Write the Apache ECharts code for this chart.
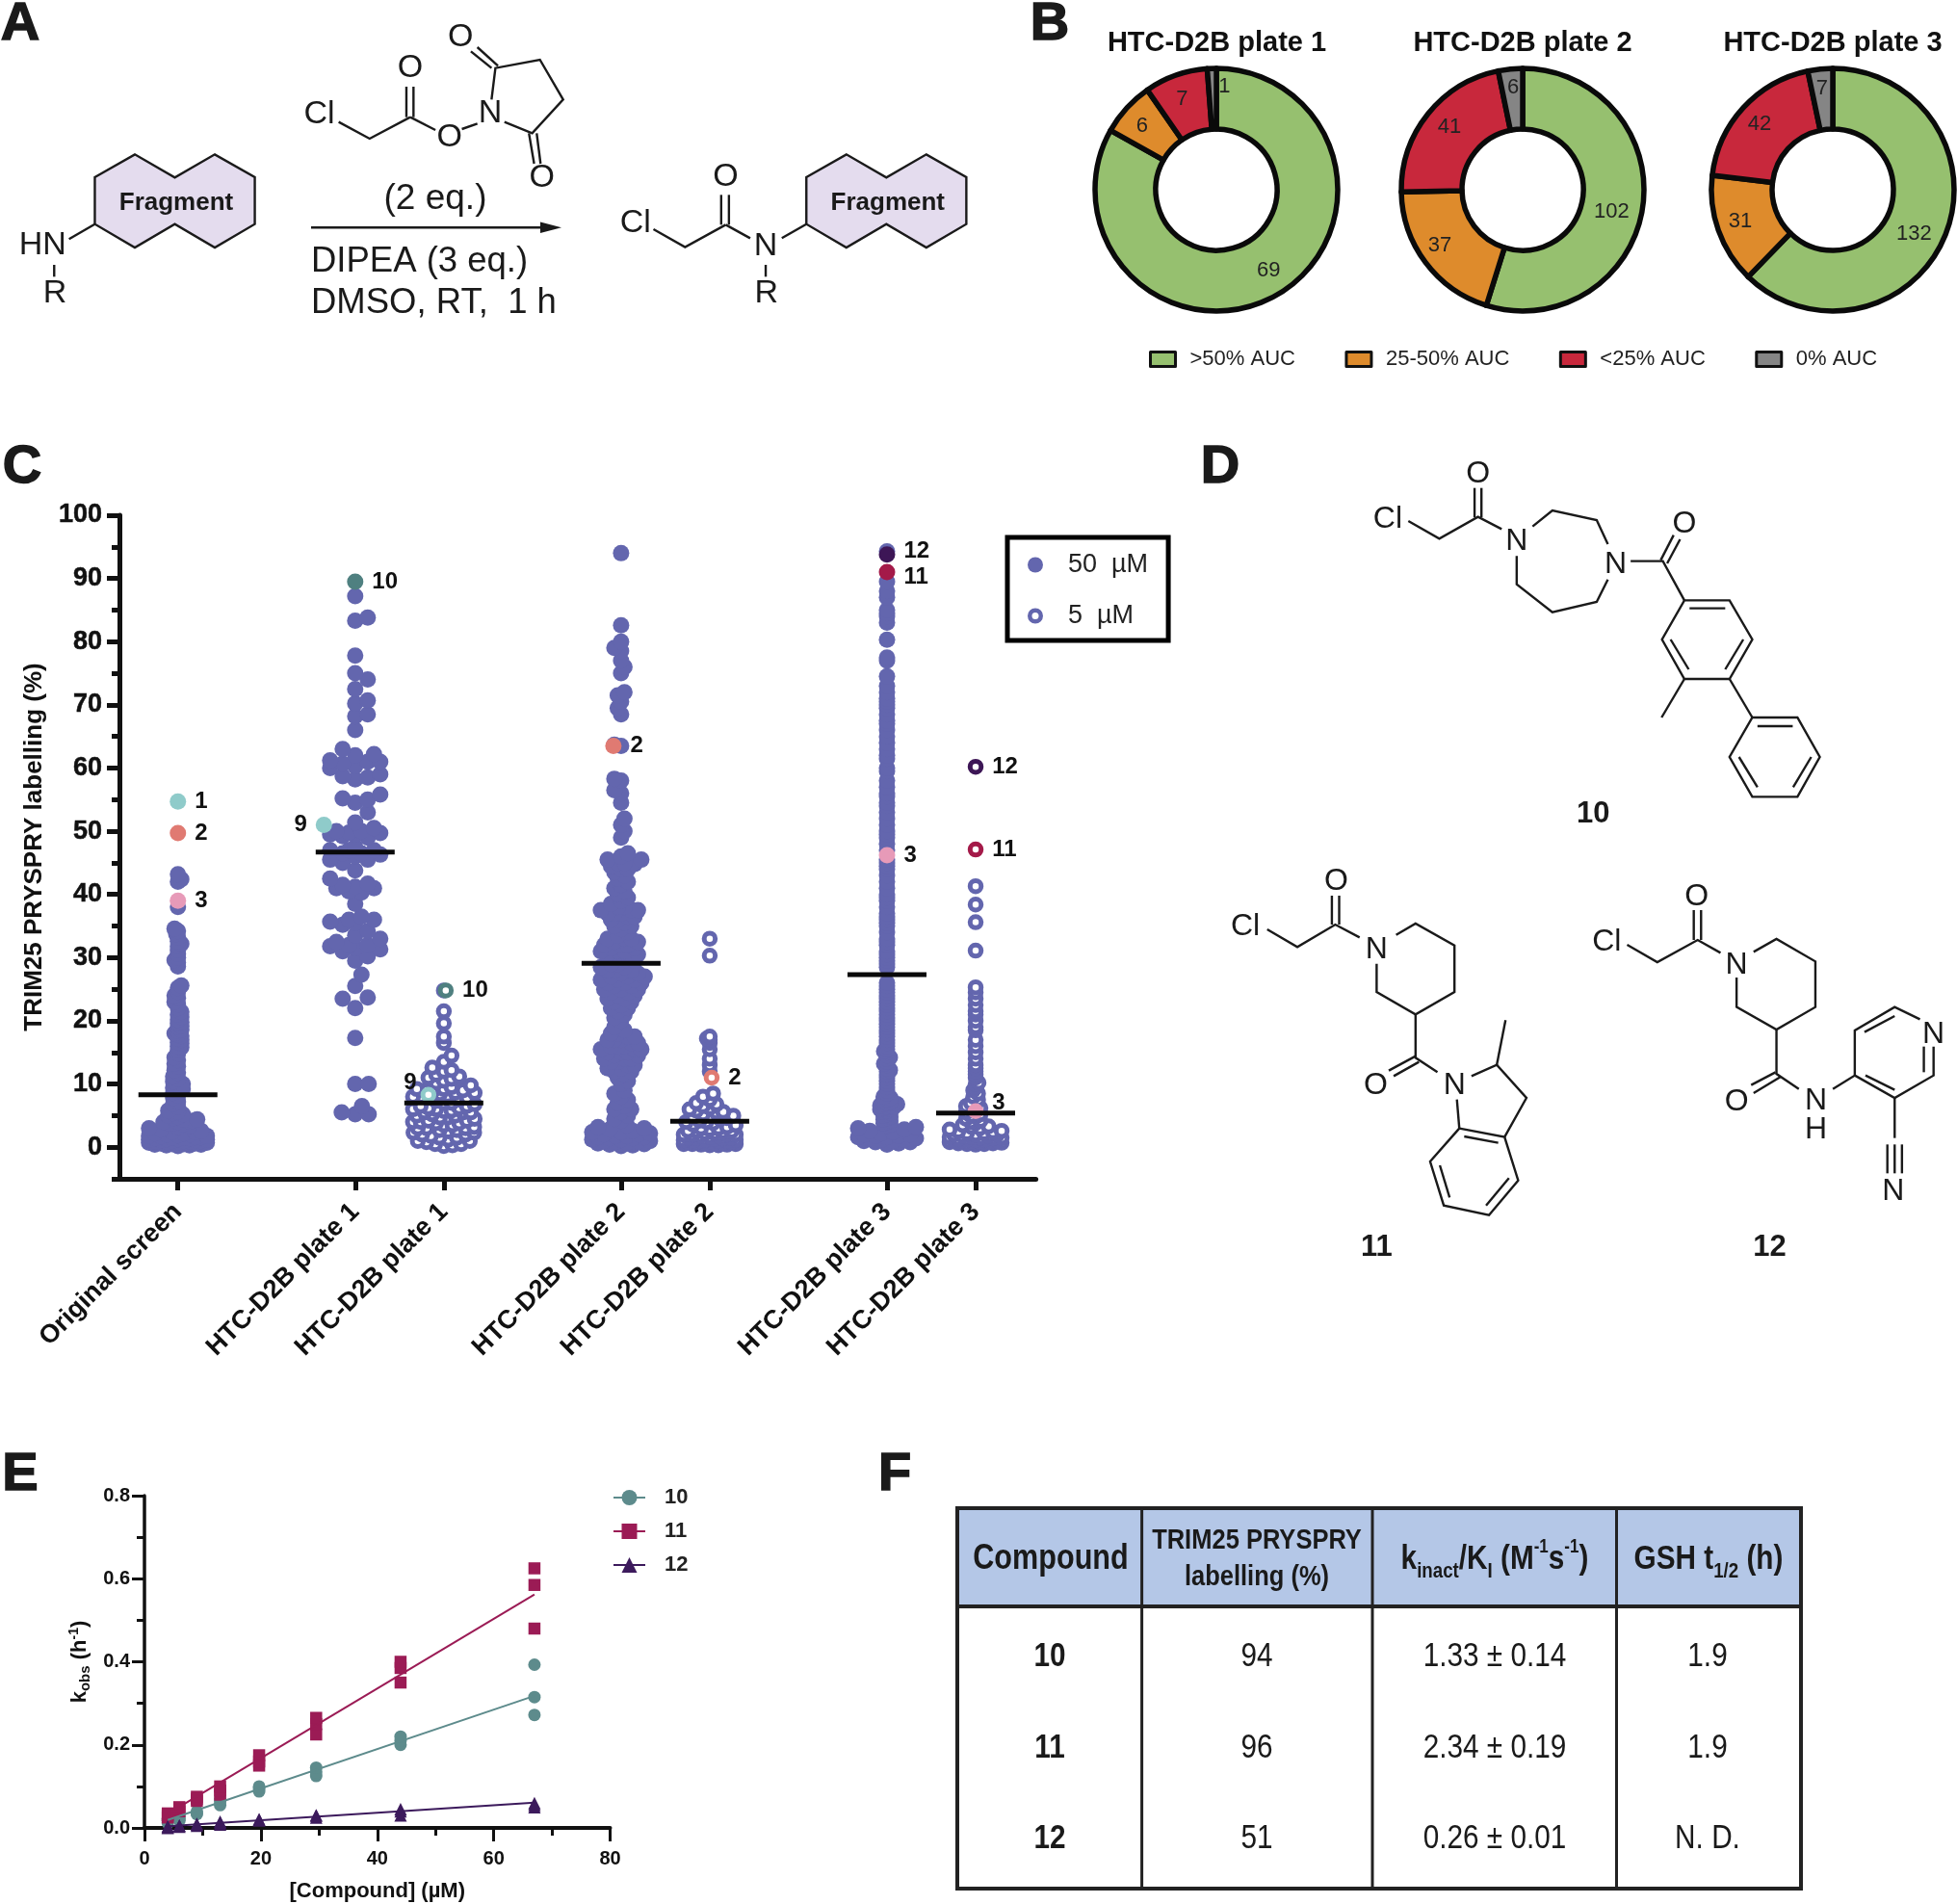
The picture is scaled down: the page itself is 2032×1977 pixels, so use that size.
<!DOCTYPE html>
<html><head><meta charset="utf-8">
<style>html,body{margin:0;padding:0;background:#fff}#c{width:2032px;height:1977px}</style>
<script src="https://cdn.jsdelivr.net/npm/echarts@6/dist/echarts.min.js"></script>
</head><body><div id="c"></div>
<script>
/* ---------- DATA ---------- */
const panelCColumns = ['Original screen','HTC-D2B plate 1','HTC-D2B plate 1','HTC-D2B plate 2','HTC-D2B plate 2','HTC-D2B plate 3','HTC-D2B plate 3'];
const panelCSlots = [0,2,3,5,6,8,9];
const originalScreen = [43.2,42.4,42,38,34.6,34.2,33.7,33.2,32.6,32.2,31.8,31.2,30.6,30,29.6,29.2,28.6,25.6,25.2,24.6,24,23.6,23,22.6,22,21.4,21,20.6,20.2,19.8,19.6,19.2,19,18.6,18.4,18,17.8,17.6,17.2,17,16.6,16.4,16,15.8,15.4,14.8,14.2,13.8,13.2,12.8,12.2,11.8,11.2,10.8,10.4,10,9.8,9.4,9.2,9,8.6,8.2,7.8,7.2,6.8,6.4,5.8,5.6,5.4,5.2,5,4.8,4.6,4.4,4.4,4.2,4.2,4,4,3.8,3.8,3.6,3.4,3.2,3,2.8,2.6,2.4,2.4,2.2,2.2,2,2,1.9,1.8,1.8,1.7,1.6,1.6,1.5,1.5,1.4,1.4,1.3,1.3,1.2,1.2,1.1,1.1,1,1,1,0.9,0.9,0.8,0.8,0.7,0.7,0.6,0.6,0.5,0.5,0.4,0.4,0.3,0.3,0.2];
const plate1At50 = [87.2,83.8,83.3,77.8,75,74,72.5,70.7,70.2,68.5,68.2,66,63,62.2,62,61.2,61,61,60.7,60.3,60,59,58.7,58.5,58.2,55.8,55.2,55,54.5,53,51.4,50.5,50,50,49.8,49.7,49.5,49.5,49.2,49,47.5,47,47,47,46.5,46.5,46.3,46,45.5,45.5,45,43.8,42.5,41.7,41.5,41.2,41,41,40.5,40.3,38.5,36.5,36,36,35.7,35.5,35.2,34.2,33.5,33,32.5,32,32,31.8,31.5,31.3,31,30.2,29.5,27.3,25.5,23.7,23.5,22,17.3,10,10,6.5,5.5,5.2,5.2];
const plate1At5 = [24.8,21.5,19.6,17.5,16.5,14.5,13.5,12.6,12.2,12,11.5,11.2,11,10.8,10.5,10.2,9.8,9.5,9.2,9.2,9,9,8.8,8.6,8.6,8.4,8.2,8,8,7.8,7.8,7.5,7.3,7,7,6.8,6.5,6.5,6.2,6.2,6,6,5.8,5.7,5.5,5.5,5.5,5.2,5,5,4.7,4.7,4.5,4.2,4.2,4,4,3.8,3.8,3.5,3.5,3.2,3,3,3,2.7,2.7,2.5,2.3,2.3,2,2,1.8,1.5,1.5,1.2,1,1,0.8,0.5,0.5,0.3,0.2];
const plate2At50 = [94,82.6,80,79,78.5,77,76,75,72,71.5,70.5,69.5,68.5,63.7,63.5,58.3,58,56.5,56,54.5,52,51,50,49,46.5,46,45.5,45.5,45,45,44.8,44.5,44,44,43.5,43,42.5,42,41.5,41,40.5,40,39.5,39,38.5,38,38,37.5,37.5,37.5,37,37,37,36.5,36.5,36,36,35.5,35,35,34.5,34,33.5,33,33,33,32.5,32.5,32,32,32,31.5,31.5,31,31,31,30.5,30.5,30.5,30,30,29.5,29.5,29,29,28.5,28.5,28,28,28,27.5,27.5,27,27,27,26.5,26.5,26.5,26,26,26,25.5,25.5,25,25,25,24.5,24.5,24,24,23.5,23.5,23,23,22.5,22,22,21.5,21,20.5,20,19,18.5,18,18,17.5,17.5,17,17,17,16.5,16.5,16,16,16,15.5,15.5,15.5,15,15,15,14.5,14.5,14,14,14,13.5,13.5,13,13,12.5,12.5,12,12,11.5,11,10.5,10,9,8.5,8,7.5,7,6.5,6,6,5.5,5,4.5,4.2,3.5,3.2,3,2.8,2.6,2.4,2.4,2.2,2,2,1.8,1.8,1.6,1.6,1.4,1.4,1.2,1.2,1,1,0.9,0.8,0.7,0.6,0.5,0.4,0.3,0.2];
const plate2At5 = [33,30.3,17.5,17.2,17,16.5,15.5,14,13,12,8.5,8,7.5,7,6.8,6.5,6.2,6,5.8,5.6,5.5,5.2,5,5,4.8,4.6,4.5,4.2,4,4,3.8,3.6,3.5,3.2,3,3,2.8,2.6,2.5,2.5,2.4,2.2,2.2,2,2,2,2,1.8,1.8,1.6,1.5,1.5,1.5,1.4,1.3,1.2,1.2,1.1,1,1,1,1,0.9,0.8,0.8,0.8,0.7,0.6,0.6,0.5,0.5,0.5,0.4,0.4,0.3,0.3];
const plate3At50 = [94.3,89.5,88,87,85,84.5,84,83,80.3,77.5,77,74.5,73,72,71,70.5,70,69.5,68.5,67.5,67,66,65,64,63,62,61.5,60,59.5,58,57,56,55.5,54.5,54,53,52,51,50,49.5,49,48,47,45.5,45,44.5,44,43,42,41,40,39.5,39,38,37,36.5,36,35.5,35,34,33,32.5,32,31,30.5,30,29.5,29,28.5,26,25.5,25,24.5,24,23.5,23,22.5,22,21.5,21,20.5,20,19.5,19,18.5,18,17.5,17,16.5,16,15.5,15.2,15,14.5,14.2,14,13.5,13.2,13,12.5,12.2,12,11.5,11,10.5,10,9.5,9,8.5,8,7.8,7.6,7.4,7.2,7,7,6.8,6.8,6.6,6.6,6.4,6.4,6.2,6,6,5.8,5.6,5.4,5.2,5,4.8,4.6,4.4,4.2,4,3.8,3.6,3.4,3.2,3,2.8,2.6,2.4,2.2,2,2,1.8,1.8,1.6,1.6,1.4,1.4,1.2,1.2,1,1,0.8,0.8,0.6,0.4];
const plate3At5 = [41.3,38.4,35.6,31.1,25.3,24.5,23.5,22.5,21.5,21,20,19,18.5,17,16,15,14,13,12.5,12,11.5,11,10.2,10,9.5,9,8.5,8,7.5,7,6.8,6.5,6.2,6,5.8,5.5,5.2,5,4.8,4.5,4.2,4,3.8,3.5,3.3,3.2,3,2.8,2.6,2.5,2.4,2.2,2.2,2,2,2,1.8,1.8,1.6,1.6,1.5,1.5,1.4,1.3,1.2,1.2,1.1,1,1,1,0.9,0.9,0.8,0.8,0.7,0.6,0.6,0.5,0.5,0.4];
const meanBars = [8.3,46.7,7,29.1,4.1,27.3,5.4];
/* labelled compounds: text, column, value */
const labelledAt50 = [['1',0,54.7],['2',0,49.7],['3',0,39],['10',1,89.5],['9',1,51],['2',3,63.5],['12',5,93.8],['11',5,91],['3',5,46.2]];
const labelledAt5 = [['10',2,24.8],['9',2,8.3],['2',4,11],['12',6,60.2],['11',6,47.1],['3',6,5.7]];

const doseLabels = ['>50% AUC','25-50% AUC','<25% AUC','0% AUC'];
const plateTitles = ['HTC-D2B plate 1','HTC-D2B plate 2','HTC-D2B plate 3'];
const plate1Counts = [69,6,7,1];
const plate2Counts = [102,37,41,6];
const plate3Counts = [132,31,42,7];

const kobsConc = [4,6,9,13,19.7,29.5,44,67];
const kobs10 = [[.012,.018,.022],[.018,.022,.027],[.033,.036,.04],[.055,.063,.07],[.088,.095,.1],[.125,.135,.145],[.2,.21,.22],[.272,.315,.393]];
const kobs11 = [[.025,.03,.035],[.04,.045,.05],[.065,.07,.075],[.08,.09,.1],[.15,.16,.175],[.225,.25,.265],[.35,.385,.4],[.48,.585,.625]];
const kobs12 = [[0,.002,.004],[.003,.005,.006],[.005,.008,.01],[.008,.012,.015],[.018,.02,.021],[.025,.03,.03],[.03,.04,.045],[.05,.055,.06]];
const fitConc = [4,67];
const fit10 = [.019,.318];
const fit11 = [.034,.562];
const fit12 = [.004,.061];

const tableHeader = ['Compound','TRIM25 PRYSPRY\nlabelling (%)','k{sub|inact}/K{sub|I} (M{sup|-1}s{sup|-1})','GSH t{sub|1/2} (h)'];
const tableCompounds = ['10','11','12'];
const tableLabelling = ['94','96','51'];
const tableKinact = ['1.33 ± 0.14','2.34 ± 0.19','0.26 ± 0.01'];
const tableGsh = ['1.9','1.9','N. D.'];

/* ---------- STYLE / LAYOUT ---------- */
const SANS='"Liberation Sans",Arial,sans-serif';
const INK='#111', PURPLE='#6366ae';
const markColor={'1':'#8fcbca','9':'#8fcbca','2':'#e07a72','3':'#e79ab8','10':'#4f8080','11':'#a41a49','12':'#3d1656'};
const C={l:124,r:1075.6,t:535,b:1224,xMin:-0.66,xMax:9.68,yMin:-5,yMax:100};
const pxX=(C.r-C.l)/(C.xMax-C.xMin), pxY=(C.b-C.t)/(C.yMax-C.yMin);
/* per-column spacing of the swarm layout: [above topBand, middle, below lowBand, half width, topBand] */
const swarmLayout=[[3.5,5,12,33,12],[13,14,14,26,12],[3,8,9,32,15],[7,7,12,33,12],[3,7,9,31,9],[3,3.5,12,33,8.5],[3,5,9,31,9]];
const lowBand=3.6;

function swarm(values,col){
  const [dTop,dMid,dLo,half,topBand]=swarmLayout[col], placed=[], out=[];
  [...values].sort((a,b)=>a-b).forEach((v,i)=>{
    const y=v*pxY, D=v<lowBand?dLo:(v>topBand?dTop:dMid), sign=i%2?1:-1, step=Math.max(D/2,1.5);
    let best=0,bestD=-1;
    for(let k=0;k*step<=half;k++){
      for(const s of (k?[sign,-sign]:[1])){
        const x=s*k*step; let m=1e9;
        for(const p of placed) m=Math.min(m,Math.hypot(p[0]-x,p[1]-y));
        if(m>bestD){bestD=m;best=x;}
        if(m>=D){bestD=1e9;break;}
      }
      if(bestD===1e9)break;
    }
    placed.push([best,y]);
    out.push([panelCSlots[col]+best/pxX,v]);
  });
  return out;
}
const cols=[originalScreen,plate1At50,plate1At5,plate2At50,plate2At5,plate3At50,plate3At5];
const filledPts=[0,1,3,5].flatMap(c=>swarm(cols[c],c));
const ringPts=[2,4,6].flatMap(c=>swarm(cols[c],c));
/* small pixel nudges of the labelled marks and of their numbers */
const markShift={'1,9':-32.5,'3,2':-8,'2,10':2,'2,9':-16,'4,2':2};
const labelSide={'9':'left'};
const labelNudge={'5,12':[0,-3],'5,11':[0,5],'6,3':[0,-8],'2,9':[5,-12]};
function markData(list,ring){
  return list.map(([t,c,v])=>{
    const col=markColor[t];
    const filledRing=ring&&t==='3';
    return {value:[panelCSlots[c]+(markShift[c+','+t]||0)/pxX,v],
      itemStyle:ring&&!filledRing?{color:'#fff',borderColor:col,borderWidth:5,opacity:1}:{color:col,borderWidth:filledRing?5:0,borderColor:col,opacity:1},
      label:{show:true,formatter:t,position:labelSide[t]||'right',distance:9,offset:labelNudge[c+','+t]||[0,0],color:INK,fontFamily:SANS,fontWeight:'bold',fontSize:24}};
  });
}

/* ---------- GRAPHIC ---------- */
const g=[];
const seg=(pts,w,close)=>g.push({type:close?'polygon':'polyline',silent:true,shape:{points:pts},style:{fill:null,stroke:'#1a1a1a',lineWidth:w||2.4,lineJoin:'miter'}});
const txt=(x,y,t,font,o,sx)=>g.push({type:'text',silent:true,x,y:y+2.5,scaleX:sx||1,style:Object.assign({text:t,font,fill:'#1a1a1a',textAlign:'center',textVerticalAlign:'middle'},o||{})});
function mol(ox,oy,sx,sy,lines,labels,size){
  const f=p=>[ox+p[0]/sx,oy+p[1]/sy];
  lines.forEach(l=>{const c=l[0]==='c';const pts=(c?l.slice(1):l).map(f);seg(pts,2.4,c);});
  labels.forEach(([t,x,y])=>{const p=f([x,y]);txt(p[0],p[1],t,(size||32)+'px '+SANS,{});});
}
/* panel letters */
[['A',21,23.5],['B',1090,23.5],['C',23,483.5],['D',1267,483.5],['E',21,1529.5],['F',929,1529.5]].forEach(([t,x,y])=>txt(x,y,t,'bold 56px '+SANS,{stroke:'#1a1a1a',lineWidth:1.5}));
/* panel A */
const frag=dx=>[[147,552],[209,481],[271,553],[333,481],[395,552],[395,698],[333,771],[271,698],[209,771],[147,698]].map(p=>[p[0]/1.493+dx,p[1]/3]);
[0,738.8].forEach(dx=>{
  g.push({type:'polygon',silent:true,shape:{points:frag(dx)},style:{fill:'#e4dcee',stroke:'#1a1a1a',lineWidth:2.4}});
  txt(183+dx,208,'Fragment','bold 26px '+SANS,{});
});
mol(0,0,1.493,3,[
 [[107,745],[147,698]],[[84,825],[84,862]],
 [[525,380],[573,432],[636,365]],[[630,365],[630,270]],[[641,365],[641,270]],[[636,365],[675,405]],[[716,402],[740,385]],
 [[762,310],[768,212],[837,186],[873,310],[825,415],[782,380]],[[772,205],[740,147]],[[762,212],[730,160]],[[820,415],[828,510]],[[832,415],[838,510]],
 [[1013,714],[1062,770],[1125,700]],[[1118,700],[1118,607]],[[1130,700],[1130,607]],[[1125,700],[1163,742]],[[1212,742],[1250,698]],[[1187,825],[1187,862]]
],[['HN',66,757],['R',85,905],['Cl',495,348],['O',636,205],['O',697,420],['N',760,345],['O',714,108],['O',840,545],['Cl',985,688],['O',1125,543],['N',1187,760],['R',1188,905]],34);
txt(452,204.5,'(2 eq.)','37px '+SANS,{});
txt(323,269,'DIPEA (3 eq.)','36.5px '+SANS,{textAlign:'left'});
txt(323,312,'DMSO, RT,  1 h','36.5px '+SANS,{textAlign:'left'});
g.push({type:'line',silent:true,shape:{x1:323,y1:236.3,x2:570,y2:236.3},style:{stroke:'#1a1a1a',lineWidth:2.6}});
g.push({type:'polygon',silent:true,shape:{points:[[583,236.3],[561,230.5],[561,242]]},style:{fill:'#1a1a1a'}});
/* panel D */
mol(1240,460,2.24,3,[
 [[498,243],[570,298],[660,230],[715,268]],[[652,232],[652,140]],[[668,232],[668,140]],
 [[787,260],[833,210],[936,240],[962,315]],[[750,352],[750,440],[833,527],[936,495],[962,425]],
 [[1015,368],[1090,368],[1140,490]],[[1085,365],[1115,287]],[[1100,375],[1130,300]],
 ['c',[1140,490],[1245,490],[1298,612],[1245,735],[1140,735],[1088,612]],[[1152,515],[1235,515]],[[1277,612],[1235,705]],[[1108,612],[1150,705]],
 [[1140,735],[1087,855]],[[1245,735],[1298,855]],
 ['c',[1298,855],[1403,855],[1455,978],[1403,1102],[1298,1102],[1245,978]],[[1310,882],[1392,882]],[[1435,978],[1393,1072]],[[1267,978],[1310,1072]]
],[['Cl',450,230],['O',660,88],['N',750,300],['N',980,370],['O',1140,245]]);
txt(1240+928/2.24,460+1150/3,'10','bold 31px '+SANS,{});
mol(1240,880,1.98,3,[
 [[150,255],[212,310],[290,240],[340,280]],[[283,240],[283,150]],[[298,240],[298,150]],
 [[415,272],[455,237],[535,305],[535,450],[455,520],[375,450],[375,362]],[[455,520],[455,655],[500,700]],
 [[455,650],[400,695]],[[462,668],[410,712]],[[570,712],[622,677],[683,780],[638,902]],[[545,875],[540,785]],[[622,677],[640,538]],
 ['c',[545,875],[638,902],[666,1037],[606,1145],[513,1115],[485,978]],[[555,900],[625,920]],[[647,1030],[600,1115]],[[525,1090],[505,990]],
 [[890,303],[952,357],[1035,288],[1082,328]],[[1027,288],[1027,195]],[[1042,288],[1042,195]],
 [[1150,325],[1197,285],[1277,355],[1277,497],[1197,567],[1115,497],[1115,405]],[[1197,567],[1197,705],[1243,752]],
 [[1195,700],[1145,740]],[[1205,715],[1150,765]],[[1313,752],[1358,710],[1358,570],[1440,497],[1492,535]],[[1520,620],[1520,710],[1440,780],[1358,710]],
 [[1378,575],[1440,525]],[[1500,620],[1500,700]],[[1380,710],[1440,755]],[[1440,780],[1440,905]],[[1425,925],[1425,1015]],[[1440,925],[1440,1015]],[[1455,925],[1455,1015]]
],[['Cl',105,240],['O',292,97],['N',375,312],['O',373,735],['N',535,735],['Cl',848,288],['O',1033,145],['N',1115,360],['O',1115,785],['N',1278,782],['H',1278,872],['N',1520,575],['N',1437,1065]]);
txt(1240+375/1.98,880+1240/3,'11','bold 31px '+SANS,{});
txt(1240+1183/1.98,880+1240/3,'12','bold 31px '+SANS,{});
/* panel F */
const T={x:[994,1185.6,1425,1678.5,1870],y:[1566,1668,1961],rows:[1718,1812.7,1907],cx:[1090,1305,1552,1774]};
const NAR=0.85;
g.push({type:'rect',silent:true,shape:{x:T.x[0],y:T.y[0],width:T.x[4]-T.x[0],height:T.y[1]-T.y[0]},style:{fill:'#b4c7e7'}});
g.push({type:'rect',silent:true,shape:{x:T.x[0],y:T.y[0],width:T.x[4]-T.x[0],height:T.y[2]-T.y[0]},style:{fill:null,stroke:'#222',lineWidth:4}});
g.push({type:'line',silent:true,shape:{x1:T.x[0],y1:T.y[1],x2:T.x[4],y2:T.y[1]},style:{stroke:'#222',lineWidth:4}});
[1,2,3].forEach(i=>g.push({type:'line',silent:true,shape:{x1:T.x[i],y1:T.y[0],x2:T.x[i],y2:T.y[2]},style:{stroke:'#222',lineWidth:3}}));
const headRich={sub:{font:'bold 22px '+SANS,fill:'#1a1a1a',verticalAlign:'bottom',lineHeight:46,padding:[14,0,0,0]},sup:{font:'bold 20px '+SANS,fill:'#1a1a1a',verticalAlign:'top',lineHeight:46}};
txt(T.cx[0]+1,1617,tableHeader[0],'bold 36px '+SANS,{},NAR);
tableHeader[1].split('\n').forEach((s,i)=>txt(T.cx[1],1597+38*i,s,'bold 30px '+SANS,{},NAR));
txt(T.cx[2],1617,tableHeader[2],'bold 35px '+SANS,{rich:headRich},NAR);
txt(T.cx[3],1617,tableHeader[3],'bold 35px '+SANS,{rich:headRich},NAR);
T.rows.forEach((y,i)=>{
  txt(T.cx[0],y,tableCompounds[i],'bold 35px '+SANS,{},NAR);
  txt(T.cx[1],y,tableLabelling[i],'35px '+SANS,{},NAR);
  txt(T.cx[2],y,tableKinact[i],'35px '+SANS,{},NAR);
  txt(T.cx[3]-1,y,tableGsh[i],'35px '+SANS,{},NAR);
});

/* ---------- SERIES ---------- */
const pieColors=['#96c06f','#de8b2c','#c8283c','#858585'];
/* pixel nudges of the slice numbers, per plate */
const sliceNudge=[[[5,0],[-5,0],[-3,-2],[12,-10]],[[-4,8],[-8,0],[0,-4],[0,-9]],[[-6,9],[-4,0],[-4,-2],[-1,-8]]];
const pieSeries=[plate1Counts,plate2Counts,plate3Counts].map((vals,i)=>({
  type:'pie',silent:true,animation:false,center:[[1263,1581,1903][i],197],radius:[63,126],startAngle:90,clockwise:true,
  itemStyle:{borderColor:'#0a0a0a',borderWidth:5.5},emphasis:{disabled:true},
  label:{position:'inside',formatter:'{c}',fontSize:22,color:'#222',fontFamily:SANS},labelLine:{show:false},
  data:vals.map((v,j)=>({name:doseLabels[j],value:v,itemStyle:{color:pieColors[j]},label:{offset:sliceNudge[i][j]}}))
}));
const triple=(conc,arr)=>conc.flatMap((c,i)=>arr[i].map(v=>[c,v]));
const eColors={'10':'#5d8b8c','11':'#9b1b55','12':'#3c1a5c'}, eSym={'10':'circle','11':'rect','12':'triangle'};
const eSeries=[['10',kobs10,fit10],['11',kobs11,fit11],['12',kobs12,fit12]].flatMap(([n,pts,fit])=>[
 {type:'scatter',name:n+' replicates',xAxisIndex:1,yAxisIndex:2,silent:true,symbol:eSym[n],symbolSize:n==='11'?12.5:13,itemStyle:{color:eColors[n],opacity:1},data:triple(kobsConc,pts),z:3},
 {type:'line',name:n,xAxisIndex:1,yAxisIndex:2,silent:true,symbol:eSym[n],showSymbol:false,lineStyle:{color:eColors[n],width:2},itemStyle:{color:eColors[n]},data:fitConc.map((c,i)=>[c,fit[i]]),z:4}
]);
const ringIcon='path://M0,50a50,50 0 1,0 100,0a50,50 0 1,0 -100,0zM28,50a22,22 0 1,1 44,0a22,22 0 1,1 -44,0z';

const heavy={textBorderColor:'#111',textBorderWidth:0.5};
const option={
 animation:false,backgroundColor:'#fff',
 title:plateTitles.map((t,i)=>({text:t,left:[1263.5,1581,1903][i],top:30,padding:0,textAlign:'center',textStyle:{fontFamily:SANS,fontWeight:'bold',fontSize:29,color:'#111'}})),
 legend:[
  {data:doseLabels,left:1193,top:362,itemWidth:26,itemHeight:15,itemGap:51.5,selectedMode:false,icon:'rect',padding:0,
   itemStyle:{borderColor:'#111',borderWidth:3},textStyle:{fontFamily:SANS,fontSize:22,color:'#222',padding:[0,0,0,10]}},
  {data:[{name:'50 µM'},{name:'5 µM',icon:ringIcon,itemStyle:{color:PURPLE,borderWidth:0}}],left:1046,top:558,itemWidth:16,itemHeight:16,itemGap:26,selectedMode:false,orient:'vertical',padding:[15,21,12,21],
   borderColor:'#000',borderWidth:5,formatter:n=>n.replace(' ','  '),textStyle:{fontFamily:SANS,fontSize:27,color:'#222',padding:[0,0,0,21]}},
  {data:['10','11','12'],left:636,top:1544,orient:'vertical',itemWidth:33,itemHeight:20,itemGap:13,selectedMode:false,padding:0,
   textStyle:{fontFamily:SANS,fontWeight:'bold',fontSize:22,color:'#222',padding:[0,0,0,15]}}
 ],
 grid:[
  {left:C.l,width:C.r-C.l,top:C.t,height:C.b-C.t},
  {left:150,width:483.5,top:1553,height:345}
 ],
 xAxis:[
  {type:'value',gridIndex:0,min:C.xMin,max:C.xMax,splitLine:{show:false},
   axisLine:{onZero:false,lineStyle:{color:'#111',width:5}},
   axisTick:{length:12,customValues:panelCSlots,lineStyle:{color:'#111',width:5}},
   axisLabel:{customValues:panelCSlots,rotate:45,margin:30,fontFamily:SANS,fontWeight:'bold',fontSize:27,color:'#111',
     formatter:v=>panelCColumns[panelCSlots.indexOf(v)]}},
  {type:'value',gridIndex:1,min:0,max:80,interval:20,splitLine:{show:false},
   axisLine:{onZero:false,lineStyle:{color:'#111',width:4}},axisTick:{length:14,lineStyle:{color:'#111',width:3}},
   minorTick:{show:true,splitNumber:2,length:8,lineStyle:{color:'#111',width:3}},minorSplitLine:{show:false},
   axisLabel:{margin:22,fontFamily:SANS,fontWeight:'bold',fontSize:20,color:'#111'},
   name:'[Compound] (µM)',nameLocation:'middle',nameGap:55,nameMoveOverlap:false,nameTextStyle:{fontFamily:SANS,fontWeight:'bold',fontSize:22,color:'#111'}}
 ],
 yAxis:[
  {type:'value',gridIndex:0,min:C.yMin,max:C.yMax,splitLine:{show:false},
   axisLine:{onZero:false,lineStyle:{color:'#111',width:5}},
   axisTick:{length:13,customValues:[0,10,20,30,40,50,60,70,80,90,100],lineStyle:{color:'#111',width:5}},
   axisLabel:Object.assign({customValues:[0,10,20,30,40,50,60,70,80,90,100],margin:18,fontFamily:SANS,fontWeight:'bold',fontSize:27,color:'#111'},heavy),
   name:'TRIM25 PRYSPRY labelling (%)',nameLocation:'middle',nameGap:75,nameMoveOverlap:false,nameTextStyle:{fontFamily:SANS,fontWeight:'bold',fontSize:26,color:'#111'}},
  {type:'value',gridIndex:0,min:C.yMin,max:C.yMax,position:'left',splitLine:{show:false},axisLine:{show:false,onZero:false},
   axisTick:{length:8,customValues:[-5,5,15,25,35,45,55,65,75,85,95],lineStyle:{color:'#111',width:5}},axisLabel:{show:false}},
  {type:'value',gridIndex:1,min:0,max:0.8,interval:0.2,splitLine:{show:false},
   axisLine:{onZero:false,lineStyle:{color:'#111',width:3.5}},axisTick:{length:13,lineStyle:{color:'#111',width:3}},
   minorTick:{show:true,splitNumber:2,length:8,lineStyle:{color:'#111',width:3}},minorSplitLine:{show:false},
   axisLabel:{margin:15,fontFamily:SANS,fontWeight:'bold',fontSize:20,color:'#111',formatter:v=>v.toFixed(1)},
   name:'k{s|obs} (h{t|-1})',nameLocation:'middle',nameGap:54,nameMoveOverlap:false,
   nameTextStyle:{fontFamily:SANS,fontWeight:'bold',fontSize:22,color:'#111',lineHeight:26,rich:{
     s:{fontFamily:SANS,fontWeight:'bold',fontSize:15,color:'#111',verticalAlign:'bottom',lineHeight:26},
     t:{fontFamily:SANS,fontWeight:'bold',fontSize:14,color:'#111',verticalAlign:'top',lineHeight:26}}}}
 ],
 series:[
  ...pieSeries,
  {type:'scatter',name:'50 µM',xAxisIndex:0,yAxisIndex:0,silent:true,symbol:'circle',symbolSize:17,itemStyle:{color:PURPLE,opacity:1},data:filledPts,z:2},
  {type:'scatter',name:'5 µM',xAxisIndex:0,yAxisIndex:0,silent:true,symbol:'circle',symbolSize:11.5,itemStyle:{color:'#fff',borderColor:PURPLE,borderWidth:5,opacity:1},data:ringPts,z:2},
  {type:'scatter',name:'labelled 50',xAxisIndex:0,yAxisIndex:0,silent:true,symbol:'circle',symbolSize:17,data:markData(labelledAt50,false),z:3},
  {type:'scatter',name:'labelled 5',xAxisIndex:0,yAxisIndex:0,silent:true,symbol:'circle',symbolSize:11.5,data:markData(labelledAt5,true),z:3},
  {type:'scatter',name:'mean',xAxisIndex:0,yAxisIndex:0,silent:true,symbol:'rect',symbolSize:[82,5],itemStyle:{color:'#0a0a0a',opacity:1},data:panelCSlots.map((s,i)=>[s,meanBars[i]]),z:4},
  ...eSeries
 ],
 graphic:{elements:g}
};
const chart=echarts.init(document.getElementById('c'),null,{renderer:'canvas',width:2032,height:1977});
chart.setOption(option);
</script></body></html>
